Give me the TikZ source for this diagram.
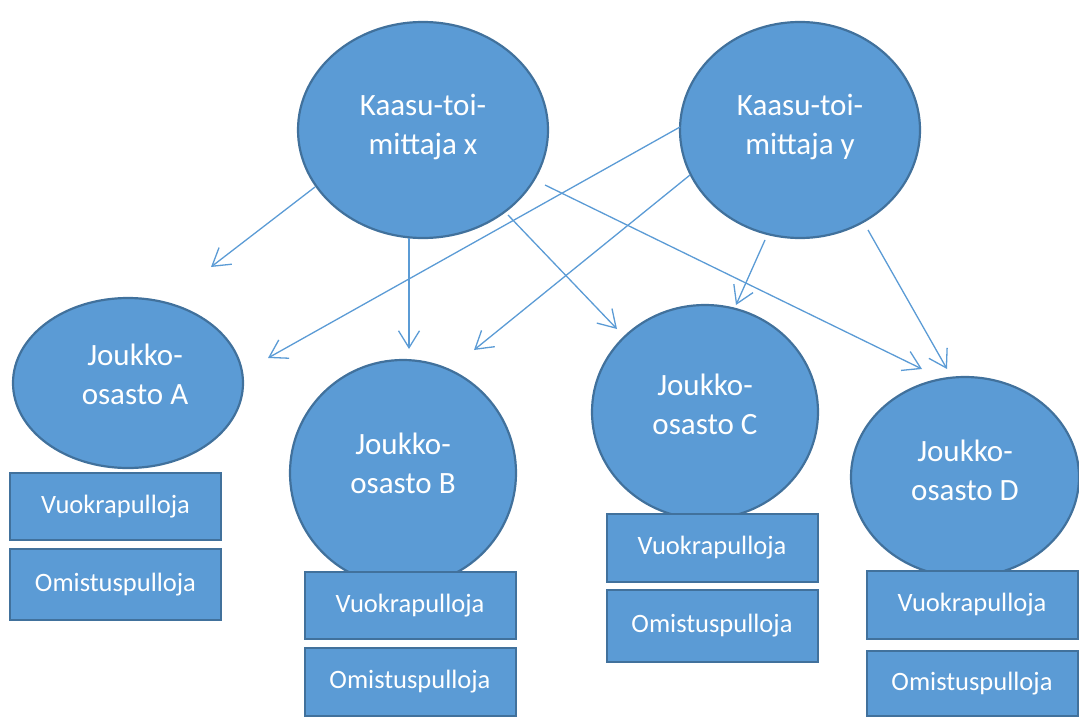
\documentclass[tikz,border=0pt]{standalone}
\usepackage{fontspec}
\setmainfont{Carlito}
\usetikzlibrary{shapes.geometric,arrows.meta}
\definecolor{boxfill}{HTML}{5B9BD5}
\definecolor{boxline}{HTML}{41719C}
\begin{document}
\begin{tikzpicture}[x=1pt,y=-1pt,
  unit/.style={ellipse, draw=boxline, line width=2.2pt, fill=boxfill, inner sep=0pt},
  unittext/.style={text=white, align=center, inner sep=0pt, font=\fontsize{31}{39}\selectfont},
  stock/.style={rectangle, draw=boxline, line width=2pt, fill=boxfill, text=white,
    minimum width=211pt, inner sep=0pt, font=\fontsize{26.5}{30}\selectfont},
  feed/.style={draw=boxfill, line width=1.3pt, -{Straight Barb[length=17pt,width=21pt,line width=1.3pt]}}]
\useasboundingbox (0,0) rectangle (1079,717);

% gas suppliers
\node[unit, minimum width=250pt, minimum height=216pt] (x) at (423,130) {};
\node[unittext] (xt) at (423,127) {Kaasu-toi-\\mittaja x};
\node[unit, minimum width=240pt, minimum height=216pt] (y) at (800,130) {};
\node[unittext] (yt) at (800,127) {Kaasu-toi-\\mittaja y};

% units
\node[unit, minimum width=230pt, minimum height=170pt] (a) at (128,383) {};
\node[unittext] (at) at (135,374) {Joukko-\\osasto A};
\node[unit, minimum width=226pt, minimum height=226pt] (b) at (403,473) {};
\node[unittext] (bt) at (403,463) {Joukko-\\osasto B};
\node[unit, minimum width=226pt, minimum height=214pt] (c) at (705,412) {};
\node[unittext] (ct) at (705,404) {Joukko-\\osasto C};
\node[unit, minimum width=228pt, minimum height=200pt] (d) at (965,477) {};
\node[unittext] (dt) at (965,470) {Joukko-\\osasto D};

% cylinder stocks below each unit
\node[stock, minimum height=67pt] (ar) at (115.5,506.5) {Vuokrapulloja};
\node[stock, minimum height=71pt] (ao) at (115.5,584.5) {Omistuspulloja};
\node[stock, minimum height=67pt] (br) at (410,605.5) {Vuokrapulloja};
\node[stock, minimum height=68pt] (bo) at (410,682) {Omistuspulloja};
\node[stock, minimum height=68pt] (cr) at (712,548) {Vuokrapulloja};
\node[stock, minimum height=72pt] (co) at (712,626) {Omistuspulloja};
\node[stock, minimum height=68pt] (dr) at (972,605) {Vuokrapulloja};
\node[stock, minimum height=65pt] (do) at (972,683.5) {Omistuspulloja};

% arrow end points
\coordinate (sx1) at (315,187); \coordinate (ex1) at (211,267);
\coordinate (sx2) at (409,238); \coordinate (ex2) at (409,349);
\coordinate (sx3) at (508,215); \coordinate (ex3) at (617,329);
\coordinate (sx4) at (545,185); \coordinate (ex4) at (922,369);
\coordinate (sy1) at (680,127); \coordinate (ey1) at (268,358);
\coordinate (sy2) at (690,175); \coordinate (ey2) at (474,350);
\coordinate (sy3) at (765,240); \coordinate (ey3) at (736,305);
\coordinate (sy4) at (868,230); \coordinate (ey4) at (947,369);

% deliveries
\draw[feed] (sx1) -- (ex1);
\draw[feed] (sx2) -- (ex2);
\draw[feed] (sx3) -- (ex3);
\draw[feed] (sx4) -- (ex4);
\draw[feed] (sy1) -- (ey1);
\draw[feed] (sy2) -- (ey2);
\draw[feed] (sy3) -- (ey3);
\draw[feed] (sy4) -- (ey4);
\end{tikzpicture}
\end{document}
